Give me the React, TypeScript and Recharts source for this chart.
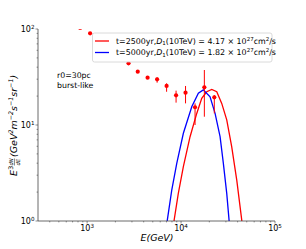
import { ComposedChart, ErrorBar, Line, Scatter, XAxis, YAxis } from "recharts";

// measured points (GeV, flux)
const energies = [843, 1076, 2760, 3458, 4403, 5560, 7015, 8849, 11160, 14090, 17700, 22590];
const fluxes = [103, 90.2, 43.9, 35.9, 31.1, 29.9, 25.5, 20.4, 21.7, 15.3, 24.7, 19.4];
const fluxLow = [103, 90.2, 43.9, 35.9, 31.1, 27.6, 22.2, 17.1, 16.8, 10.0, 12.2, 13.2];
const fluxHigh = [103, 90.2, 43.9, 35.9, 31.1, 31.4, 27.2, 22.8, 25.5, 16.8, 37.4, 20.5];

// model curves
const redE = [8130, 8440, 9350, 10580, 12470, 14690, 16600, 18760, 21220, 23990, 27100, 30640, 34590, 39170, 44260, 46240];
const redFlux = [0.63, 1.02, 1.94, 3.68, 7.55, 13.2, 19.0, 22.2, 23.5, 22.2, 16.8, 11.3, 5.94, 2.67, 1.02, 0.63];
const blueE = [6840, 7140, 7960, 9000, 10580, 13000, 15280, 17260, 20360, 23020, 26020, 28200, 30640, 32430, 33650];
const blueFlux = [0.71, 1.02, 2.1, 3.99, 8.2, 15.5, 21.4, 23.2, 19.7, 13.2, 7.55, 3.99, 1.94, 1.02, 0.63];

const xMajor = [1e3, 1e4, 1e5];
const yMajor = [1, 10, 100];

const points = energies.map((e, i) => ({
  e,
  y: fluxes[i],
  err: [fluxes[i] - fluxLow[i], fluxHigh[i] - fluxes[i]],
}));
const redLine = redE.map((e, i) => ({ e, y: redFlux[i] }));
const blueLine = blueE.map((e, i) => ({ e, y: blueFlux[i] }));

const minorOf = (majors: number[]) => {
  const out: number[] = [];
  for (let k = 0; k < majors.length; k++) {
    out.push(majors[k]);
    if (k < majors.length - 1) for (let m = 2; m <= 9; m++) out.push(majors[k] * m);
  }
  return out;
};
const xTicks = [400, 500, 600, 700, 800, 900, ...minorOf(xMajor)];
const yTicks = minorOf(yMajor);

const FONT = "DejaVu Sans";
const AXIS = "#444";

const isMajor = (v: number) => {
  const l = Math.log10(v);
  return Math.abs(l - Math.round(l)) < 1e-6;
};

function XTick({ x, y, payload }: any) {
  const v = payload.value;
  const major = isMajor(v);
  return (
    <g>
      <line x1={x} x2={x} y1={y} y2={y + (major ? 2.5 : 1.4)} stroke={AXIS} strokeWidth={0.6} />
      {major && (
        <text x={x} y={y + 10} textAnchor="middle" fontSize={8} fontFamily={FONT} fill="#000">
          10<tspan dy={-3.3} fontSize={5.6}>{Math.round(Math.log10(v))}</tspan>
        </text>
      )}
    </g>
  );
}

function YTick({ x, y, payload }: any) {
  const v = payload.value;
  const major = isMajor(v);
  return (
    <g>
      <line x1={x - (major ? 2.5 : 1.4)} x2={x} y1={y} y2={y} stroke={AXIS} strokeWidth={0.6} />
      {major && (
        <text x={x - 3.5} y={y + 3} textAnchor="end" fontSize={8} fontFamily={FONT} fill="#000">
          10<tspan dy={-3.3} fontSize={5.6}>{Math.round(Math.log10(v))}</tspan>
        </text>
      )}
    </g>
  );
}

const dot = (p: any) => <circle cx={p.cx} cy={p.cy} r={2.1} fill="#ff0000" />;

function Legend() {
  const sup = 5.5;
  const row = (y: number, color: string, t: string, d: string) => (
    <g>
      <line x1={95} x2={109} y1={y} y2={y} stroke={color} strokeWidth={1.3} />
      <text x={116} y={y + 2.8} fontSize={7.9} fontFamily={FONT} fill="#000">
        t={t}yr,<tspan fontStyle="italic">D</tspan>
        <tspan fontSize={sup} dy={1.5}>1</tspan>
        <tspan dy={-1.5}>(10TeV) = {d} × 10</tspan>
        <tspan fontSize={sup} dy={-3.2}>27</tspan>
        <tspan dy={3.2}>cm</tspan>
        <tspan fontSize={sup} dy={-3.2}>2</tspan>
        <tspan dy={3.2}>/s</tspan>
      </text>
    </g>
  );
  return (
    <g>
      <rect x={92.5} y={33} width={179.5} height={29} rx={2} fill="#fff" fillOpacity={0.85} stroke="#d0d0d0" strokeWidth={0.8} />
      {row(41, "#ff0000", "2500", "4.17")}
      {row(52.5, "#0000ff", "5000", "1.82")}
    </g>
  );
}

function Labels() {
  const s = 6.3;
  return (
    <g fontFamily={FONT} fill="#000">
      <text x={157} y={241} textAnchor="middle" fontSize={9.5} fontStyle="italic">
        E(GeV)
      </text>
      <g transform="translate(17,176) rotate(-90)">
        <text x={0} y={0} fontSize={9.5} fontStyle="italic">E</text>
        <text x={6.3} y={-4} fontSize={s}>3</text>
        <text x={10.5} y={-4.3} fontSize={5.3} fontStyle="italic">dN</text>
        <line x1={10.5} x2={17.5} y1={-2.6} y2={-2.6} stroke="#000" strokeWidth={0.5} />
        <text x={10.5} y={2.6} fontSize={5.3} fontStyle="italic">dE</text>
        <text x={19} y={0} fontSize={9.5} fontStyle="italic">
          (GeV<tspan fontSize={s} dy={-4}>2</tspan>
          <tspan dy={4}>m</tspan>
          <tspan fontSize={s} dy={-4}>−2</tspan>
          <tspan dy={4}>s</tspan>
          <tspan fontSize={s} dy={-4}>−1</tspan>
          <tspan dy={4}>sr</tspan>
          <tspan fontSize={s} dy={-4}>−1</tspan>
          <tspan dy={4}>)</tspan>
        </text>
      </g>
      <text x={57} y={78} fontSize={7.8}>r0=30pc</text>
      <text x={57} y={88} fontSize={7.8}>burst-like</text>
    </g>
  );
}

export default function App() {
  return (
    <div style={{ position: "relative", width: 306, height: 249, background: "#fff" }}>
      <style>{`body{margin:0}`}</style>
      <ComposedChart width={306} height={249} margin={{ top: 29, right: 31, bottom: 0, left: 0 }}>
        <XAxis
          dataKey="e"
          type="number"
          scale="log"
          domain={[300, 1e5]}
          allowDataOverflow
          ticks={xTicks}
          interval={0}
          height={28}
          tickSize={0}
          tickMargin={0}
          tickLine={false}
          tick={<XTick />}
          stroke={AXIS}
          strokeWidth={0.8}
        />
        <XAxis
          xAxisId="top"
          orientation="top"
          type="number"
          scale="log"
          domain={[300, 1e5]}
          allowDataOverflow
          height={0}
          tick={false}
          tickLine={false}
          stroke={AXIS}
          strokeWidth={0.8}
        />
        <YAxis
          dataKey="y"
          type="number"
          scale="log"
          domain={[1, 100]}
          allowDataOverflow
          ticks={yTicks}
          interval={0}
          width={38}
          tickSize={0}
          tickMargin={0}
          tickLine={false}
          tick={<YTick />}
          stroke={AXIS}
          strokeWidth={0.8}
        />
        <YAxis
          yAxisId="right"
          orientation="right"
          type="number"
          scale="log"
          domain={[1, 100]}
          allowDataOverflow
          width={0}
          tick={false}
          tickLine={false}
          stroke={AXIS}
          strokeWidth={0.8}
        />
        <Line data={redLine} dataKey="y" stroke="#ff0000" strokeWidth={1.3} dot={false} isAnimationActive={false} />
        <Line data={blueLine} dataKey="y" stroke="#0000ff" strokeWidth={1.3} dot={false} isAnimationActive={false} />
        <Scatter data={points} fill="#ff0000" shape={dot} isAnimationActive={false}>
          <ErrorBar dataKey="err" direction="y" width={0} stroke="#ff0000" strokeWidth={1} />
        </Scatter>
      </ComposedChart>
      <svg width={306} height={249} style={{ position: "absolute", left: 0, top: 0, pointerEvents: "none" }}>
        <Legend />
        <Labels />
      </svg>
    </div>
  );
}
